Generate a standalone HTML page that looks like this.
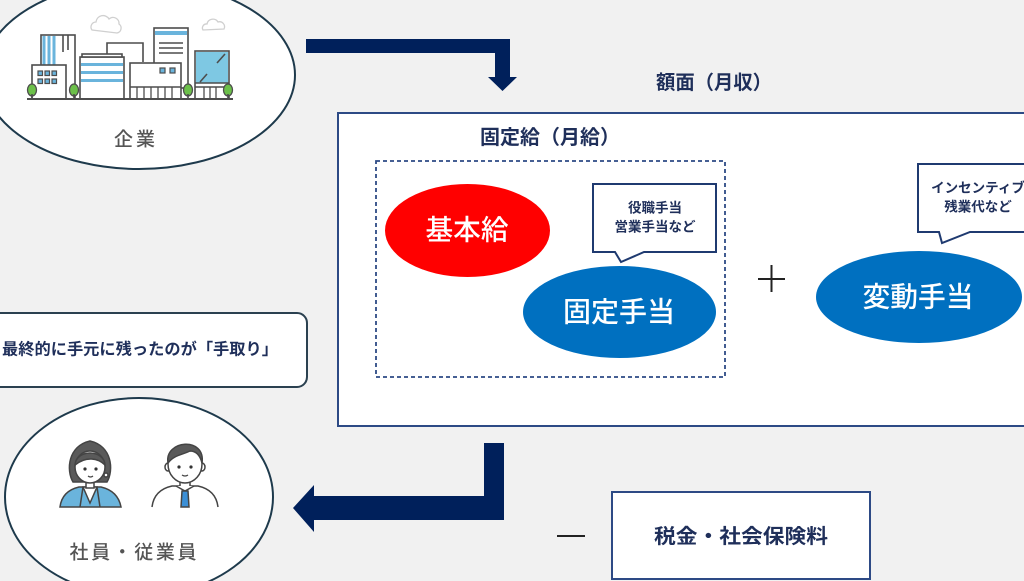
<!DOCTYPE html>
<html><head><meta charset="utf-8"><style>
html,body{margin:0;padding:0;background:#f1f1f1;}
svg{display:block;}
text{font-family:"Liberation Sans","Noto Sans CJK JP",sans-serif;}
</style></head><body>
<svg width="1024" height="581" viewBox="0 0 1024 581" xmlns="http://www.w3.org/2000/svg">
<rect width="1024" height="581" fill="#f1f1f1"/>

<!-- top-left ellipse -->
<ellipse cx="139" cy="75" rx="156" ry="94" fill="#fff" stroke="#1e3a4c" stroke-width="2"/>
<!-- clouds -->
<g fill="#fff" stroke="#d0d0d0" stroke-width="1.3">
<path d="M92,30 a5,5 0 0 1 4,-8 a7,7 0 0 1 13,-3 a6,6 0 0 1 10,5 a5,5 0 0 1 -2,9 z"/>
<path d="M203,30 a4,4 0 0 1 4,-6 a6,6 0 0 1 11,-2 a5,5 0 0 1 6,7 z"/>
</g>
<!-- buildings -->
<g stroke="#4d4d4d" stroke-width="1.6" fill="#fff">
<rect x="41" y="35" width="34" height="64"/>
<g stroke="#6ab4dc" stroke-width="3"><line x1="44" y1="36" x2="44" y2="65"/><line x1="49" y1="36" x2="49" y2="65"/><line x1="54" y1="36" x2="54" y2="65"/></g>
<line x1="63" y1="35" x2="63" y2="52"/><line x1="68" y1="35" x2="68" y2="50"/>
<rect x="32" y="65" width="34" height="34"/>
<g fill="#6ab4dc" stroke-width="1.2"><rect x="38" y="71" width="4.5" height="4.5"/><rect x="45" y="71" width="4.5" height="4.5"/><rect x="52" y="71" width="4.5" height="4.5"/><rect x="38" y="79" width="4.5" height="4.5"/><rect x="45" y="79" width="4.5" height="4.5"/><rect x="52" y="79" width="4.5" height="4.5"/></g>
<path d="M107,55 V43 H143 V62" fill="none"/>
<rect x="80" y="57" width="44" height="42"/>
<rect x="82" y="54" width="40" height="3"/>
<g fill="#6ab4dc" stroke="none"><rect x="81" y="63" width="42" height="3"/><rect x="81" y="71" width="42" height="3"/><rect x="81" y="79" width="42" height="3"/></g>
<rect x="154" y="28" width="34" height="60"/>
<rect x="155" y="31" width="32" height="4" fill="#6ab4dc" stroke="none"/>
<line x1="159" y1="43" x2="183" y2="43"/><line x1="159" y1="48" x2="183" y2="48"/><line x1="159" y1="53" x2="183" y2="53"/>
<rect x="130" y="63" width="51" height="36"/>
<rect x="160" y="68" width="5" height="5" fill="#6ab4dc" stroke-width="1.2"/><rect x="170" y="68" width="5" height="5" fill="#6ab4dc" stroke-width="1.2"/>
<line x1="130" y1="87" x2="181" y2="87"/>
<g stroke-width="1.3"><line x1="137" y1="87" x2="137" y2="99"/><line x1="144" y1="87" x2="144" y2="99"/><line x1="151" y1="87" x2="151" y2="99"/><line x1="158" y1="87" x2="158" y2="99"/><line x1="165" y1="87" x2="165" y2="99"/><line x1="172" y1="87" x2="172" y2="99"/></g>
<rect x="195" y="51" width="34" height="48"/>
<rect x="196" y="52" width="32" height="31" fill="#7ec8e3" stroke="none"/>
<line x1="195" y1="83" x2="229" y2="83"/>
<line x1="217" y1="63" x2="225" y2="54"/><line x1="200" y1="82" x2="207" y2="74"/>
<line x1="195" y1="87" x2="229" y2="87"/>
<g stroke-width="1.3"><line x1="204" y1="87" x2="204" y2="99"/><line x1="210" y1="87" x2="210" y2="99"/><line x1="216" y1="87" x2="216" y2="99"/></g>
<g fill="#6cc04a" stroke-width="1.3">
<ellipse cx="32" cy="90" rx="4.5" ry="6"/><ellipse cx="74" cy="90" rx="4.5" ry="6"/><ellipse cx="188" cy="90" rx="4.5" ry="6"/><ellipse cx="228" cy="90" rx="4.5" ry="6"/>
</g>
<line x1="32" y1="94" x2="32" y2="99"/><line x1="74" y1="94" x2="74" y2="99"/><line x1="188" y1="94" x2="188" y2="99"/><line x1="228" y1="94" x2="228" y2="99"/>
<line x1="27" y1="99" x2="233" y2="99" stroke-width="2"/>
</g>
<text x="136" y="140" font-size="19" fill="#555" text-anchor="middle" dominant-baseline="central" font-weight="500" letter-spacing="3">企業</text>

<!-- top arrow -->
<polygon points="306,39 510,39 510,77 517,77 502.5,91 488,77 495,77 495,53 306,53" fill="#00205b"/>

<text x="714" y="83" font-size="19.5" fill="#1f2f5a" text-anchor="middle" dominant-baseline="central" font-weight="700" textLength="116" lengthAdjust="spacingAndGlyphs">額面（月収）</text>

<!-- main box -->
<rect x="338" y="113" width="710" height="313" fill="#fff" stroke="#2d4a85" stroke-width="2"/>
<text x="550" y="138" font-size="20" fill="#1f2f5a" text-anchor="middle" dominant-baseline="central" font-weight="700" textLength="140" lengthAdjust="spacingAndGlyphs">固定給（月給）</text>
<rect x="376" y="161" width="349" height="216" fill="none" stroke="#2d4a85" stroke-width="1.8" stroke-dasharray="4 3"/>

<ellipse cx="467.5" cy="230.5" rx="82.5" ry="46.5" fill="#ff0000"/>
<text x="467" y="230" font-size="28" fill="#fff" text-anchor="middle" dominant-baseline="central" font-weight="500" textLength="83" lengthAdjust="spacingAndGlyphs">基本給</text>

<path d="M593,184 H716 V252 H644 L621,262 L615,252 H593 Z" fill="#fff" stroke="#1f3a70" stroke-width="2"/>
<text x="655" y="208" font-size="13.5" fill="#1f2f5a" text-anchor="middle" dominant-baseline="central" font-weight="700">役職手当</text>
<text x="655" y="227" font-size="13.5" fill="#1f2f5a" text-anchor="middle" dominant-baseline="central" font-weight="700">営業手当など</text>

<ellipse cx="619.5" cy="312" rx="96.5" ry="46" fill="#0070c0"/>
<text x="619" y="312" font-size="28" fill="#fff" text-anchor="middle" dominant-baseline="central" font-weight="500" textLength="112" lengthAdjust="spacingAndGlyphs">固定手当</text>

<line x1="758" y1="279" x2="785" y2="279" stroke="#222" stroke-width="2"/>
<line x1="771.5" y1="265" x2="771.5" y2="292" stroke="#222" stroke-width="2"/>

<path d="M918,164 H1040 V232 H970 L942,243 L939,232 H918 Z" fill="#fff" stroke="#1f3a70" stroke-width="2"/>
<text x="978" y="188" font-size="13.5" fill="#1f2f5a" text-anchor="middle" dominant-baseline="central" font-weight="700">インセンティブ</text>
<text x="978" y="207" font-size="13.5" fill="#1f2f5a" text-anchor="middle" dominant-baseline="central" font-weight="700">残業代など</text>

<ellipse cx="919" cy="297" rx="103" ry="46" fill="#0070c0"/>
<text x="918" y="297" font-size="28" fill="#fff" text-anchor="middle" dominant-baseline="central" font-weight="500" textLength="111" lengthAdjust="spacingAndGlyphs">変動手当</text>

<!-- text box -->
<rect x="-12" y="313" width="319" height="74" rx="10" fill="#fff" stroke="#2b4150" stroke-width="2"/>
<text x="2" y="350" font-size="16" fill="#1f2f5a" dominant-baseline="central" font-weight="700" textLength="276" lengthAdjust="spacingAndGlyphs">最終的に手元に残ったのが「手取り」</text>

<!-- bottom arrow -->
<polygon points="484,443 504,443 504,520 314,520 314,532 293,508 314,485 314,496 484,496" fill="#00205b"/>

<line x1="557" y1="536" x2="585" y2="536" stroke="#222" stroke-width="2"/>
<rect x="612" y="492" width="258" height="87" fill="#fff" stroke="#2d4a85" stroke-width="2"/>
<text x="741" y="537" font-size="20" fill="#1f2f5a" text-anchor="middle" dominant-baseline="central" font-weight="700" textLength="174" lengthAdjust="spacingAndGlyphs">税金・社会保険料</text>

<!-- bottom-left ellipse -->
<ellipse cx="139" cy="497" rx="134" ry="99" fill="#fff" stroke="#1e3a4c" stroke-width="2"/>
<!-- woman -->
<g stroke="#444" stroke-width="1.5">
<path d="M73,482 C66,470 68,446 90,441 C112,446 114,470 107,482 Z" fill="#5a5a5a"/>
<path d="M60,507 Q62,491 79,487 L101,487 Q118,491 121,507 Z" fill="#6ab4dc"/>
<path d="M83,487 L90,503 L97,487 Z" fill="#fff"/>
<line x1="83" y1="487" x2="80" y2="507"/><line x1="97" y1="487" x2="100" y2="507"/>
<rect x="86" y="480" width="8" height="8" fill="#fff"/>
<ellipse cx="90" cy="467" rx="15" ry="16" fill="#fff"/>
<path d="M75,465 C76,449 104,449 105,465 C98,458 86,456 75,465 Z" fill="#5a5a5a"/>
<circle cx="106" cy="475" r="2" fill="#fff"/>
</g>
<circle cx="85" cy="469" r="1.6" fill="#333"/><circle cx="96" cy="469" r="1.6" fill="#333"/>
<path d="M88,476 Q90.5,478 93,476" stroke="#444" stroke-width="1.2" fill="none"/>
<!-- man -->
<g stroke="#444" stroke-width="1.5">
<path d="M152,507 Q154,490 172,486 L198,486 Q216,490 218,507" fill="#fff"/>
<rect x="180" y="478" width="10" height="9" fill="#fff"/>
<path d="M176,486 L185,491 L194,486" fill="#fff"/>
<path d="M182,491 L188,491 L189,507 L181,507 Z" fill="#3b8fd6"/>
<ellipse cx="168" cy="467" rx="3" ry="4" fill="#fff"/><ellipse cx="202" cy="467" rx="3" ry="4" fill="#fff"/>
<ellipse cx="185" cy="464" rx="17" ry="19" fill="#fff"/>
<path d="M168,463 C164,440 206,436 202,463 C200,455 196,451 190,451 C182,455 174,455 168,463 Z" fill="#5a5a5a"/>
</g>
<circle cx="179" cy="467" r="1.6" fill="#333"/><circle cx="191" cy="467" r="1.6" fill="#333"/>
<path d="M182,475 Q185,477 188,475" stroke="#444" stroke-width="1.2" fill="none"/>
<text x="133" y="553" font-size="19" fill="#555" text-anchor="middle" dominant-baseline="central" font-weight="500" textLength="127" lengthAdjust="spacing">社員・従業員</text>
</svg>
</body></html>
